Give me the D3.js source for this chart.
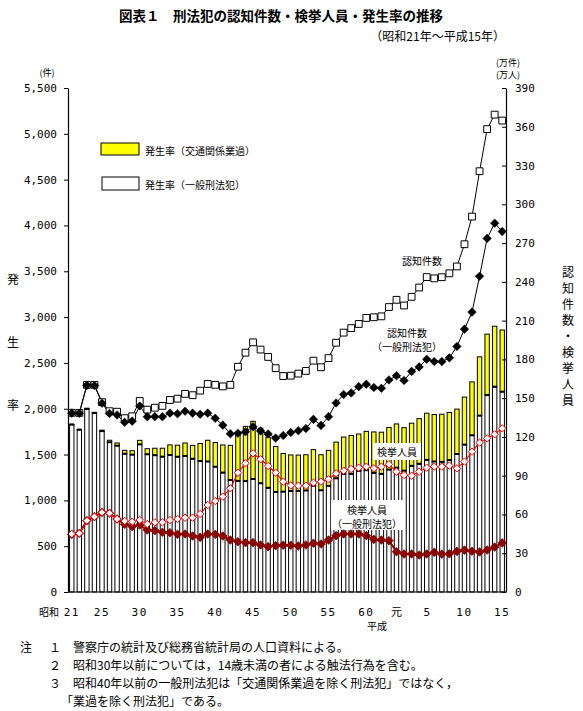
<!DOCTYPE html>
<html><head><meta charset="utf-8">
<script src="https://cdn.jsdelivr.net/npm/d3@7"></script>
<style>body{margin:0;background:#fff}</style>
</head><body>
<svg id="c" width="583" height="711"></svg>
<script>
const years = ["S21","S22","S23","S24","S25","S26","S27","S28","S29","S30","S31","S32","S33","S34","S35","S36","S37","S38","S39","S40","S41","S42","S43","S44","S45","S46","S47","S48","S49","S50","S51","S52","S53","S54","S55","S56","S57","S58","S59","S60","S61","S62","S63","H1","H2","H3","H4","H5","H6","H7","H8","H9","H10","H11","H12","H13","H14","H15"];
// 認知件数 (万件)
const totalCases = [138.7,138.6,160.3,160.3,146.9,139.9,139.5,134.5,136.0,147.8,141.1,142.6,144.0,148.6,149.6,153.3,152.3,155.8,161.0,160.3,159.1,160.3,174.3,185.2,193.2,187.6,181.9,173.2,167.1,167.4,169.0,171.1,179.0,173.9,181.0,192.9,200.7,204.2,207.4,212.1,212.6,213.3,220.5,226.1,221.7,228.4,235.6,243.7,242.7,243.6,246.6,251.9,269.1,290.5,325.6,358.2,369.4,364.8];
// 認知件数（一般刑法犯）(万件)
const generalCases = [138.4,138.3,159.9,159.8,146.1,138.1,137.0,131.3,132.2,143.9,135.6,135.7,135.6,138.4,137.9,139.9,138.4,137.5,138.4,134.4,129.1,122.4,122.9,124.0,127.9,124.6,122.3,119.1,121.1,123.4,124.8,126.5,133.6,128.9,135.7,146.3,152.8,154.0,158.9,160.8,158.2,157.7,164.1,167.3,163.7,170.7,174.2,180.1,178.4,178.3,181.2,190.0,203.4,216.6,244.3,273.6,285.4,279.0];
// 検挙人員 (万人)
const totalArrests = [44.9,45.4,55.2,58.3,61.6,60.9,56.5,54.9,54.4,55.7,52.6,53.9,53.9,55.7,56.5,57.5,57.5,60.4,67.3,70.4,73.8,80.2,92.3,99.6,107.3,102.7,97.5,92.3,85.4,82.5,82.3,82.3,84.6,85.4,87.2,91.8,93.9,95.2,96.2,97.0,95.7,97.0,98.8,93.1,90.5,90.0,93.1,96.2,97.0,97.0,97.8,95.7,100.9,108.6,115.6,118.9,122.0,126.6];
// 検挙人員（一般刑法犯）(万人)
const generalArrests = [44.6,45.4,55.2,58.3,61.6,60.9,56.5,52.4,50.6,51.8,48.0,47.5,46.2,45.9,44.6,44.9,43.3,42.3,44.9,44.6,43.3,40.2,38.9,38.2,38.2,36.4,35.1,35.9,36.2,36.2,35.6,36.4,37.7,37.1,40.2,43.6,44.9,44.9,44.9,43.6,40.7,40.2,39.7,31.2,29.4,29.4,28.6,29.4,30.7,29.3,29.6,31.4,32.4,31.5,31.0,32.5,34.8,38.0];
// 発生率（全刑法犯, 人口10万人当たり）
const rateTotal = [1831,1775,2004,1960,1766,1656,1626,1546,1542,1655,1564,1569,1569,1605,1602,1626,1600,1620,1656,1631,1605,1600,1721,1807,1863,1787,1690,1588,1511,1496,1494,1498,1554,1498,1546,1636,1691,1709,1724,1753,1747,1744,1796,1834,1794,1842,1892,1951,1937,1940,1959,1996,2127,2293,2566,2814,2900,2859];
// 発生率（一般刑法犯）
const rateGeneral = [1827,1771,1999,1954,1756,1634,1597,1509,1499,1611,1503,1493,1477,1495,1476,1484,1454,1429,1424,1367,1303,1222,1213,1210,1233,1187,1137,1092,1095,1103,1103,1108,1160,1110,1159,1241,1287,1289,1321,1329,1300,1289,1336,1357,1324,1377,1399,1442,1424,1420,1439,1506,1608,1710,1925,2149,2240,2186];

const leftTicks = [0,500,1000,1500,2000,2500,3000,3500,4000,4500,5000,5500];
const rightTicks = [0,30,60,90,120,150,180,210,240,270,300,330,360,390];
const xTickYears = ["S21","S25","S30","S35","S40","S45","S50","S55","S60","H1","H5","H10","H15"];
const xTickLabels = ["21","25","30","35","40","45","50","55","60","元","5","10","15"];
const notes = [
  ["注","１","警察庁の統計及び総務省統計局の人口資料による。"],
  ["","２","昭和30年以前については，14歳未満の者による触法行為を含む。"],
  ["","３","昭和40年以前の一般刑法犯は「交通関係業過を除く刑法犯」ではなく，"],
  ["","","「業過を除く刑法犯」である。"]
];

const svg = d3.select("#c");
const JP = "'Noto Sans CJK JP','Noto Sans',sans-serif";
const MONO = "'DejaVu Sans Mono','Liberation Mono',monospace";
const L = 68, R = 506, T = 88, B = 592;

const x = d3.scaleBand().domain(years).range([L, R]).paddingInner(0.42).paddingOuter(0.21);
const cx = d => x(d) + x.bandwidth() / 2;
const yL = d3.scaleLinear().domain([0, 5500]).range([B, T]);
const yR = d3.scaleLinear().domain([0, 390]).range([B, T]);

// title
svg.append("text").attr("x", 281).attr("y", 21).attr("text-anchor", "middle")
  .attr("font-family", JP).attr("font-weight", "bold").attr("font-size", 13.5)
  .text("図表１　刑法犯の認知件数・検挙人員・発生率の推移");
svg.append("text").attr("x", 505).attr("y", 41).attr("text-anchor", "end")
  .attr("font-family", JP).attr("font-size", 12)
  .text("（昭和21年～平成15年）");

// bars
const bars = svg.append("g");
years.forEach((yr, i) => {
  bars.append("rect").attr("x", x(yr)).attr("y", yL(rateGeneral[i]))
    .attr("width", x.bandwidth()).attr("height", yL(0) - yL(rateGeneral[i]))
    .attr("fill", "#fff").attr("stroke", "#000").attr("stroke-width", 1);
  if (rateTotal[i] > rateGeneral[i]) {
    bars.append("rect").attr("x", x(yr)).attr("y", yL(rateTotal[i]))
      .attr("width", x.bandwidth()).attr("height", yL(rateGeneral[i]) - yL(rateTotal[i]))
      .attr("fill", "#ffff00").attr("stroke", "#000").attr("stroke-width", 1);
  }
  bars.append("line").attr("x1", x(yr)).attr("x2", x(yr) + x.bandwidth())
    .attr("y1", yL(rateGeneral[i])).attr("y2", yL(rateGeneral[i]))
    .attr("stroke", "#000").attr("stroke-width", 2);
});

// label boxes over bars
function labelBox(lines, xc, y0, lh, fs, box) {
  if (box) svg.append("rect").attr("x", box[0]).attr("y", box[1]).attr("width", box[2]).attr("height", box[3]).attr("fill", "#fff");
  lines.forEach((t, k) => svg.append("text").attr("x", xc).attr("y", y0 + k * lh)
    .attr("text-anchor", "middle").attr("dominant-baseline", "central")
    .attr("font-family", JP).attr("font-size", fs).text(t));
}
labelBox(["検挙人員"], 397, 451, 0, 10, [373, 443, 48, 17]);
labelBox(["検挙人員", "（一般刑法犯）"], 367, 509, 14, 10, [331, 500, 72, 30]);
labelBox(["認知件数"], 422, 260, 0, 10, null);
labelBox(["認知件数", "（一般刑法犯）"], 407, 332, 14, 10, null);

// lines
function series(vals, color, width) {
  svg.append("path").datum(vals)
    .attr("d", d3.line().x((d, i) => cx(years[i])).y(d => yR(d)))
    .attr("fill", "none").attr("stroke", color).attr("stroke-width", width);
}
const diamond = r => `M0,${-r}L${r},0L0,${r}L${-r},0Z`;
function markers(vals, path, fill, stroke, sw) {
  svg.append("g").selectAll("path").data(vals).join("path")
    .attr("transform", (d, i) => `translate(${cx(years[i])},${yR(d)})`)
    .attr("d", path).attr("fill", fill).attr("stroke", stroke).attr("stroke-width", sw);
}
series(generalArrests, "#8b0000", 2);
series(totalArrests, "#ff0000", 1.2);
series(generalCases, "#000", 1);
series(totalCases, "#000", 1);
markers(generalArrests, diamond(4.3), "#8b0000", "#8b0000", 0.8);
markers(totalArrests, diamond(3.7), "#fff", "#ff0000", 1);
markers(totalCases, "M-3.4,-3.4h6.8v6.8h-6.8Z", "#fff", "#000", 1);
markers(generalCases, diamond(4.3), "#000", "#000", 0.5);

// axes
const axL = svg.append("g").attr("transform", `translate(${L},0)`)
  .call(d3.axisLeft(yL).tickValues(leftTicks).tickFormat(d3.format(",")).tickSize(4).tickSizeOuter(0));
const axR = svg.append("g").attr("transform", `translate(${R},0)`)
  .call(d3.axisLeft(yR).tickValues(rightTicks).tickSize(4).tickSizeOuter(0));
axR.selectAll("text").attr("x", 9).attr("text-anchor", "start");
[axL, axR].forEach(a => {
  a.select(".domain").attr("stroke", "#000").attr("stroke-width", 1.2);
  a.selectAll("line").attr("stroke", "#000");
  a.selectAll("text").attr("font-family", MONO).attr("font-size", 11).attr("fill", "#000");
});
axL.selectAll("text").attr("x", -11);
svg.append("line").attr("x1", L).attr("x2", R).attr("y1", B).attr("y2", B).attr("stroke", "#000").attr("stroke-width", 1.2);

// x labels
xTickYears.forEach((yr, k) => {
  svg.append("text").attr("x", cx(yr)).attr("y", 616).attr("text-anchor", "middle")
    .attr("font-family", xTickLabels[k] === "元" ? JP : MONO).attr("font-size", 11)
    .attr("letter-spacing", xTickLabels[k].length > 1 ? 1.5 : 0).text(xTickLabels[k]);
});
svg.append("text").attr("x", 49).attr("y", 616).attr("text-anchor", "middle").attr("font-family", JP).attr("font-size", 10).text("昭和");
svg.append("text").attr("x", 377).attr("y", 630).attr("text-anchor", "middle").attr("font-family", JP).attr("font-size", 10).text("平成");

// units
svg.append("text").attr("x", 47).attr("y", 76).attr("text-anchor", "middle").attr("font-family", JP).attr("font-size", 9).text("(件)");
svg.append("text").attr("x", 508).attr("y", 66).attr("text-anchor", "middle").attr("font-family", JP).attr("font-size", 9).text("(万件)");
svg.append("text").attr("x", 508).attr("y", 78).attr("text-anchor", "middle").attr("font-family", JP).attr("font-size", 9).text("(万人)");

// axis titles
["発","生","率"].forEach((c, k) => svg.append("text").attr("x", 13).attr("y", 278 + k * 63)
  .attr("text-anchor", "middle").attr("dominant-baseline", "central").attr("font-family", JP).attr("font-size", 12).text(c));
"認知件数・検挙人員".split("").forEach((c, k) => svg.append("text").attr("x", 568).attr("y", 271 + k * 16)
  .attr("text-anchor", "middle").attr("dominant-baseline", "central").attr("font-family", JP).attr("font-size", 12).text(c));

// legend
svg.append("rect").attr("x", 101).attr("y", 143).attr("width", 38).attr("height", 12).attr("fill", "#ffff00").attr("stroke", "#000");
svg.append("text").attr("x", 145).attr("y", 150).attr("dominant-baseline", "central").attr("font-family", JP).attr("font-size", 10).text("発生率（交通関係業過）");
svg.append("rect").attr("x", 102).attr("y", 177).attr("width", 37).attr("height", 13).attr("fill", "#fff").attr("stroke", "#000");
svg.append("text").attr("x", 145).attr("y", 184).attr("dominant-baseline", "central").attr("font-family", JP).attr("font-size", 10).text("発生率（一般刑法犯）");

// notes
notes.forEach((n, k) => {
  const yy = 652 + k * 18;
  if (n[0]) svg.append("text").attr("x", 20).attr("y", yy).attr("font-family", JP).attr("font-size", 12).text(n[0]);
  if (n[1]) svg.append("text").attr("x", 49).attr("y", yy).attr("font-family", JP).attr("font-size", 12).text(n[1]);
  svg.append("text").attr("x", n[1] ? 73 : 61).attr("y", yy).attr("font-family", JP).attr("font-size", 12).text(n[2]);
});
</script>
</body></html>
